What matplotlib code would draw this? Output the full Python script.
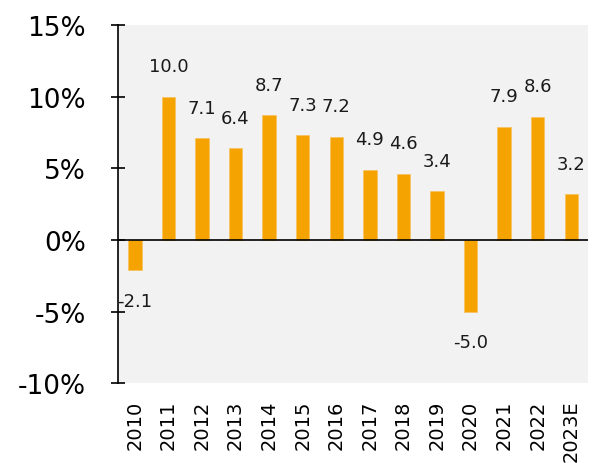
import numpy as np
import matplotlib
matplotlib.use('Agg')
import matplotlib.pyplot as plt

# Annual growth, %
years = ['2010', '2011', '2012', '2013', '2014', '2015', '2016',
         '2017', '2018', '2019', '2020', '2021', '2022', '2023E']
growth = [-2.1, 10.0, 7.1, 6.4, 8.7, 7.3, 7.2, 4.9, 4.6, 3.4, -5.0, 7.9, 8.6, 3.2]
y_ticks = [-10, -5, 0, 5, 10, 15]

plt.rcParams['font.family'] = 'DejaVu Sans'

fig = plt.figure(figsize=(5.94, 4.64), dpi=100)
ax = fig.add_axes([0.1987, 0.172, 0.7913, 0.772])
ax.set_facecolor('#f2f2f2')

x = np.arange(len(years))
ax.bar(x, growth, width=0.4, color='#f5a300', edgecolor='#f8c060', linewidth=0.5, zorder=2)
ax.axhline(0, color='black', linewidth=1.2, zorder=3)

for xi, v in zip(x, growth):
    off = 22 if v >= 0 else -22
    ax.annotate(f'{v:.1f}', (xi, v), xytext=(0, off), textcoords='offset points',
                ha='center', va='center', fontsize=13, color='#1a1a1a')

ax.set_xlim(-0.5, len(years) - 0.5)
ax.set_ylim(-10, 15)
ax.set_yticks(y_ticks)
ax.set_yticklabels([f'{t}%' for t in y_ticks], fontsize=19)
ax.set_xticks(x)
ax.set_xticklabels(years, rotation=90, fontsize=14)

for s in ['top', 'right', 'bottom']:
    ax.spines[s].set_visible(False)
ax.spines['left'].set_linewidth(1.2)
ax.tick_params(axis='y', direction='inout', length=10, width=1.2, pad=18)
ax.tick_params(axis='x', length=0, pad=12)

fig.savefig('out.png', dpi=100)
